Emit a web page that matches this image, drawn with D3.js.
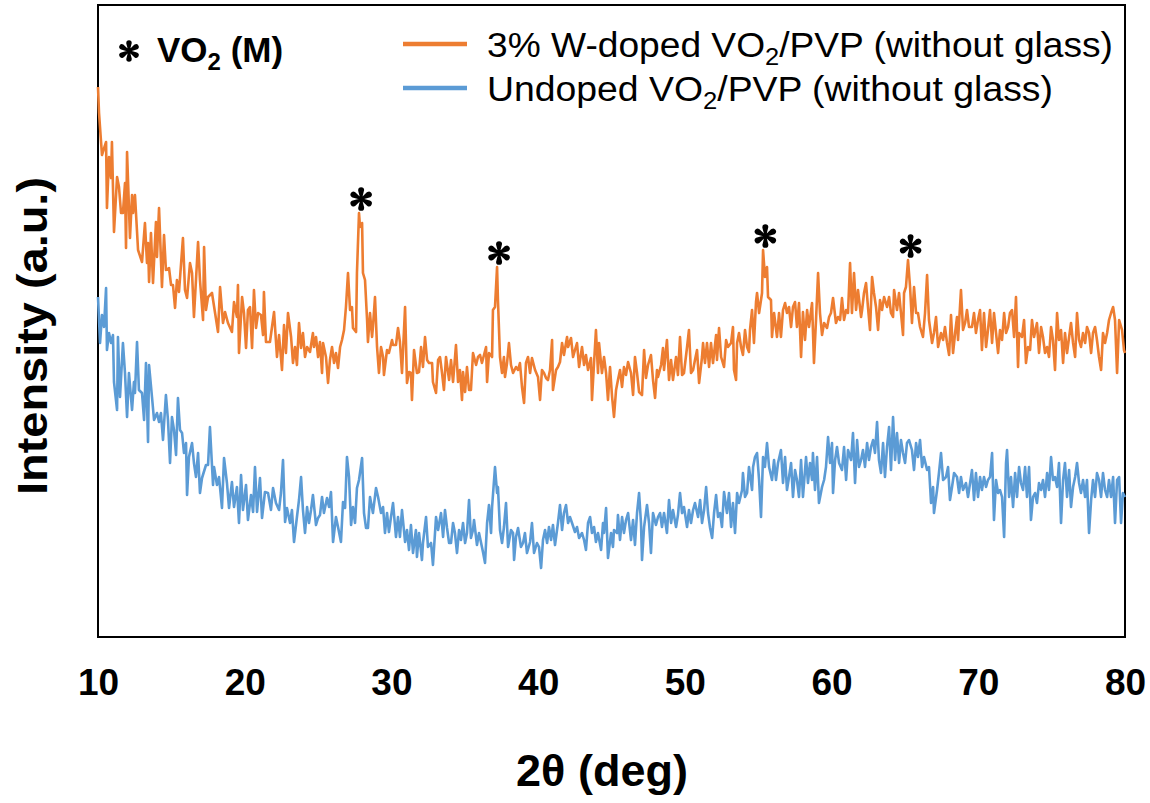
<!DOCTYPE html>
<html>
<head>
<meta charset="utf-8">
<script src="https://cdn.jsdelivr.net/npm/d3@7"></script>
<style>
  html, body { margin: 0; padding: 0; background: #fff; }
  svg { display: block; }
</style>
</head>
<body>
<svg id="chart" width="1150" height="803"></svg>
<script>
// XRD scans: [2θ (deg), intensity (a.u.)]
const dopedScan = [
  [10.00,550],[10.07,524],[10.27,482],[10.55,495],[10.61,429],[10.75,480],[10.89,459],[10.95,495],
  [11.09,405],[11.30,460],[11.43,450],[11.57,424],[11.70,424],[11.84,454],[11.91,389],[11.98,485],
  [12.18,399],[12.32,442],[12.39,424],[12.52,442],[12.73,387],[13.00,375],[13.20,414],[13.34,374],
  [13.41,394],[13.48,355],[13.61,404],[13.75,354],[13.95,415],[14.02,380],[14.16,429],[14.36,350],
  [14.50,402],[14.63,367],[14.84,369],[14.98,352],[15.11,352],[15.25,329],[15.38,357],[15.52,345],
  [15.79,399],[15.93,347],[16.07,339],[16.27,374],[16.41,364],[16.54,320],[16.82,395],[16.95,357],
  [17.16,317],[17.23,390],[17.36,327],[17.50,340],[17.77,344],[17.98,324],[18.18,305],[18.32,350],
  [18.52,314],[18.66,325],[18.86,314],[19.13,305],[19.27,335],[19.47,320],[19.54,352],[19.61,284],
  [19.82,340],[19.95,324],[20.09,289],[20.22,327],[20.36,330],[20.50,289],[20.63,347],[20.77,309],
  [20.91,324],[21.11,322],[21.25,302],[21.31,345],[21.45,295],[21.72,295],[22.00,325],[22.20,280],
  [22.34,302],[22.54,267],[22.68,312],[22.81,284],[22.95,324],[23.16,300],[23.29,274],[23.43,290],
  [23.56,272],[23.70,314],[23.84,289],[23.97,304],[24.11,280],[24.25,290],[24.45,285],[24.65,304],
  [24.72,290],[24.86,300],[25.00,280],[25.13,295],[25.27,264],[25.34,294],[25.54,280],[25.68,254],
  [25.81,277],[25.95,290],[26.09,274],[26.22,284],[26.36,269],[26.50,290],[26.63,297],[26.77,307],
  [26.90,330],[27.04,364],[27.18,327],[27.31,330],[27.38,309],[27.59,305],[27.65,364],[27.79,424],
  [27.86,410],[28.00,414],[28.06,364],[28.20,357],[28.34,317],[28.40,295],[28.54,324],[28.68,300],
  [28.74,310],[28.88,340],[29.02,290],[29.15,264],[29.29,290],[29.43,280],[29.49,262],[29.70,287],
  [29.83,284],[30.04,297],[30.11,292],[30.31,292],[30.45,309],[30.58,295],[30.72,264],[30.93,330],
  [31.06,254],[31.20,265],[31.33,264],[31.40,237],[31.54,287],[31.74,264],[31.88,265],[32.02,290],
  [32.15,270],[32.29,300],[32.43,277],[32.56,274],[32.77,274],[32.83,255],[33.04,244],[33.18,277],
  [33.31,280],[33.45,264],[33.58,247],[33.72,280],[33.93,257],[34.06,277],[34.20,255],[34.40,292],
  [34.54,255],[34.67,267],[34.81,237],[34.88,265],[35.02,245],[35.15,270],[35.29,247],[35.42,247],
  [35.56,284],[35.77,272],[35.90,280],[36.04,282],[36.17,274],[36.31,282],[36.45,290],[36.52,255],
  [36.65,284],[36.86,280],[36.92,327],[37.06,330],[37.20,370],[37.26,337],[37.40,280],[37.54,264],
  [37.67,280],[37.74,260],[37.88,274],[38.01,294],[38.15,272],[38.29,264],[38.49,270],[38.63,267],
  [38.76,274],[38.90,250],[39.04,234],[39.17,274],[39.31,280],[39.45,264],[39.58,279],[39.79,267],
  [39.99,260],[40.13,237],[40.26,267],[40.40,264],[40.54,259],[40.67,257],[40.81,267],[40.95,297],
  [41.01,247],[41.22,267],[41.35,270],[41.49,275],[41.63,294],[41.76,282],[41.97,300],[42.04,290],
  [42.24,299],[42.38,280],[42.51,287],[42.65,294],[42.79,270],[42.99,290],[43.13,272],[43.26,282],
  [43.40,267],[43.60,279],[43.67,237],[43.81,274],[43.94,307],[44.08,264],[44.15,294],[44.35,264],
  [44.49,280],[44.63,264],[44.76,237],[44.90,270],[45.04,240],[45.17,220],[45.31,247],[45.44,257],
  [45.58,267],[45.72,250],[45.85,270],[45.99,262],[46.13,275],[46.33,264],[46.47,242],[46.60,280],
  [46.74,264],[46.88,245],[47.08,242],[47.22,287],[47.35,259],[47.49,272],[47.69,282],[47.83,257],
  [47.97,239],[48.10,267],[48.17,260],[48.38,272],[48.51,289],[48.58,267],[48.78,297],[48.92,257],
  [49.06,277],[49.19,257],[49.40,280],[49.53,262],[49.67,300],[49.81,262],[49.94,264],[50.15,290],
  [50.28,307],[50.42,264],[50.56,267],[50.69,277],[50.83,287],[50.97,254],[51.17,280],[51.24,294],
  [51.37,274],[51.51,294],[51.65,270],[51.78,294],[51.92,274],[52.13,302],[52.19,277],[52.33,309],
  [52.47,280],[52.67,270],[52.81,297],[52.94,290],[53.15,294],[53.28,310],[53.35,267],[53.49,257],
  [53.56,294],[53.69,304],[53.83,290],[53.96,282],[54.10,307],[54.24,290],[54.37,285],[54.44,307],
  [54.58,327],[54.71,294],[54.85,335],[54.92,344],[55.06,324],[55.26,344],[55.33,387],[55.46,360],
  [55.60,370],[55.67,340],[55.87,337],[55.94,300],[56.08,324],[56.28,300],[56.42,324],[56.55,300],
  [56.69,327],[56.83,334],[56.96,324],[57.10,330],[57.24,310],[57.37,330],[57.51,335],[57.64,310],
  [57.78,334],[57.92,280],[58.05,325],[58.19,297],[58.33,327],[58.46,310],[58.67,334],[58.80,274],
  [58.94,317],[59.08,364],[59.21,324],[59.35,302],[59.49,314],[59.69,309],[59.83,320],[59.96,324],
  [60.10,339],[60.30,314],[60.44,320],[60.58,317],[60.71,339],[60.85,317],[60.99,327],[61.12,324],
  [61.26,374],[61.39,324],[61.53,364],[61.67,327],[61.80,347],[62.01,320],[62.08,327],[62.21,344],
  [62.35,354],[62.48,330],[62.62,307],[62.76,360],[62.89,344],[63.03,330],[63.17,307],[63.30,337],
  [63.44,327],[63.58,340],[63.78,330],[63.92,340],[64.05,324],[64.19,320],[64.26,347],[64.46,327],
  [64.60,344],[64.73,324],[64.87,302],[64.94,344],[65.07,350],[65.21,377],[65.35,350],[65.48,314],
  [65.62,350],[65.76,324],[65.89,324],[66.03,310],[66.23,300],[66.37,324],[66.51,362],[66.64,317],
  [66.85,294],[66.98,304],[67.12,320],[67.26,290],[67.46,304],[67.60,297],[67.73,310],[67.87,294],
  [68.01,282],[68.14,322],[68.28,284],[68.42,304],[68.55,320],[68.62,297],[68.82,347],[68.96,307],
  [69.10,314],[69.23,327],[69.37,310],[69.57,310],[69.71,324],[69.84,304],[69.98,317],[70.12,327],
  [70.25,287],[70.39,324],[70.53,290],[70.66,307],[70.80,327],[70.94,294],[71.07,324],[71.21,304],
  [71.35,284],[71.48,307],[71.62,297],[71.76,324],[71.89,304],[72.03,310],[72.16,324],[72.30,327],
  [72.44,300],[72.57,340],[72.71,270],[72.78,304],[72.98,300],[73.12,317],[73.25,274],[73.39,290],
  [73.53,287],[73.66,317],[73.80,300],[74.00,314],[74.14,284],[74.28,310],[74.41,300],[74.55,284],
  [74.69,290],[74.82,280],[74.96,310],[75.09,297],[75.23,267],[75.37,324],[75.50,297],[75.64,307],
  [75.78,274],[75.91,304],[76.05,284],[76.19,300],[76.32,314],[76.46,294],[76.60,280],[76.73,324],
  [76.87,297],[77.00,290],[77.14,304],[77.28,294],[77.41,310],[77.55,304],[77.69,284],[77.82,304],
  [77.96,310],[78.09,297],[78.23,280],[78.37,267],[78.50,304],[78.64,294],[78.78,304],[78.91,317],
  [79.05,324],[79.19,330],[79.32,317],[79.46,264],[79.60,317],[79.80,307],[79.93,287],[80.00,284]
];

const undopedScan = [
  [10.00,340],[10.14,294],[10.27,322],[10.41,310],[10.55,349],[10.61,287],[10.75,304],[10.89,294],
  [11.02,302],[11.09,255],[11.30,227],[11.36,300],[11.50,240],[11.70,294],[11.84,264],[11.98,220],
  [12.11,264],[12.32,227],[12.45,255],[12.52,244],[12.66,295],[12.79,247],[13.00,244],[13.14,217],
  [13.27,274],[13.41,195],[13.48,272],[13.68,240],[13.82,217],[14.02,224],[14.16,215],[14.29,224],
  [14.43,197],[14.63,242],[14.77,217],[14.91,174],[15.04,220],[15.18,207],[15.32,182],[15.45,239],
  [15.59,207],[15.73,204],[15.86,184],[16.00,194],[16.07,142],[16.20,180],[16.41,194],[16.54,174],
  [16.68,160],[16.82,184],[16.95,144],[17.09,159],[17.36,172],[17.50,172],[17.63,210],[17.84,152],
  [17.91,170],[18.11,152],[18.25,160],[18.45,129],[18.59,179],[18.79,154],[18.93,129],[19.13,155],
  [19.27,130],[19.47,150],[19.61,114],[19.75,162],[19.88,127],[20.09,152],[20.22,117],[20.43,142],
  [20.57,125],[20.70,170],[20.84,125],[21.04,159],[21.18,119],[21.38,145],[21.59,144],[21.79,127],
  [21.93,149],[22.13,134],[22.34,127],[22.47,144],[22.61,177],[22.75,115],[22.88,129],[23.09,114],
  [23.22,127],[23.36,95],[23.56,120],[23.70,137],[23.84,160],[23.97,127],[24.11,104],[24.25,130],
  [24.38,114],[24.52,127],[24.65,142],[24.86,112],[25.00,119],[25.13,122],[25.27,140],[25.40,124],
  [25.61,139],[25.75,130],[25.88,145],[26.02,95],[26.22,120],[26.36,110],[26.56,95],[26.70,135],
  [26.84,129],[26.97,180],[27.11,160],[27.25,112],[27.38,130],[27.52,114],[27.65,149],[27.79,157],
  [28.00,179],[28.13,124],[28.27,109],[28.40,109],[28.54,140],[28.74,124],[28.95,149],[29.09,140],
  [29.29,124],[29.43,130],[29.56,104],[29.70,124],[29.83,105],[29.97,120],[30.11,134],[30.31,100],
  [30.45,120],[30.58,100],[30.72,127],[30.93,95],[31.06,107],[31.20,87],[31.33,112],[31.47,84],
  [31.67,107],[31.74,80],[31.88,104],[32.08,77],[32.15,94],[32.36,120],[32.49,90],[32.70,94],
  [32.83,72],[33.04,120],[33.18,107],[33.38,124],[33.52,100],[33.65,127],[33.79,109],[33.93,94],
  [34.06,94],[34.20,114],[34.33,104],[34.47,84],[34.61,107],[34.74,97],[34.88,114],[35.02,94],
  [35.15,104],[35.29,137],[35.42,99],[35.56,107],[35.63,117],[35.83,92],[35.97,104],[36.17,90],
  [36.24,85],[36.38,74],[36.52,114],[36.65,132],[36.79,104],[36.86,130],[37.06,170],[37.20,144],
  [37.26,150],[37.40,107],[37.54,94],[37.67,110],[37.81,134],[37.95,90],[38.15,107],[38.29,104],
  [38.36,77],[38.49,100],[38.63,109],[38.83,90],[38.97,94],[39.10,104],[39.24,84],[39.45,95],
  [39.58,114],[39.72,84],[39.92,94],[40.06,90],[40.20,69],[40.33,97],[40.47,107],[40.61,94],
  [40.74,110],[40.88,97],[41.01,112],[41.15,92],[41.35,114],[41.49,132],[41.63,107],[41.76,124],
  [41.90,132],[42.04,114],[42.17,120],[42.31,114],[42.51,105],[42.65,110],[42.79,99],[42.99,104],
  [43.13,97],[43.26,87],[43.40,114],[43.54,120],[43.67,104],[43.81,110],[43.94,95],[44.08,104],
  [44.29,87],[44.42,114],[44.49,104],[44.63,129],[44.76,79],[44.97,104],[45.10,90],[45.17,107],
  [45.38,104],[45.44,122],[45.58,97],[45.72,120],[45.85,104],[45.99,117],[46.13,124],[46.33,97],
  [46.47,117],[46.60,92],[46.74,124],[46.88,144],[47.01,114],[47.08,77],[47.22,110],[47.42,132],
  [47.56,114],[47.69,84],[47.83,124],[48.03,112],[48.17,120],[48.31,124],[48.44,110],[48.58,124],
  [48.78,104],[48.92,137],[49.06,114],[49.19,127],[49.40,110],[49.53,122],[49.67,144],[49.81,124],
  [49.94,130],[50.15,110],[50.28,127],[50.42,114],[50.56,127],[50.69,134],[50.90,120],[51.04,137],
  [51.17,114],[51.31,127],[51.45,150],[51.58,124],[51.72,109],[51.86,99],[51.99,124],[52.13,142],
  [52.26,120],[52.40,124],[52.53,110],[52.67,145],[52.87,124],[53.01,144],[53.15,110],[53.28,134],
  [53.42,104],[53.56,144],[53.69,134],[53.90,147],[53.96,164],[54.10,140],[54.24,144],[54.37,170],
  [54.58,147],[54.65,170],[54.78,180],[54.92,184],[55.06,157],[55.19,120],[55.33,180],[55.46,170],
  [55.60,194],[55.74,170],[55.94,157],[56.08,177],[56.21,157],[56.35,174],[56.55,187],[56.69,154],
  [56.83,180],[56.96,147],[57.10,160],[57.24,174],[57.37,140],[57.51,167],[57.64,157],[57.78,140],
  [57.92,177],[58.05,140],[58.26,180],[58.39,154],[58.53,174],[58.67,157],[58.73,184],[58.87,147],
  [59.01,180],[59.14,134],[59.35,150],[59.49,157],[59.62,170],[59.76,200],[59.90,174],[60.03,194],
  [60.10,144],[60.24,177],[60.37,190],[60.51,174],[60.71,167],[60.85,190],[60.99,157],[61.12,187],
  [61.33,177],[61.46,204],[61.60,154],[61.74,197],[61.87,170],[62.01,177],[62.14,187],[62.28,170],
  [62.42,194],[62.55,177],[62.69,190],[62.83,197],[62.96,184],[63.10,215],[63.23,177],[63.37,164],
  [63.51,194],[63.64,160],[63.78,190],[63.92,210],[64.05,167],[64.19,220],[64.33,177],[64.46,204],
  [64.60,174],[64.73,197],[64.87,184],[65.01,174],[65.14,194],[65.28,197],[65.48,187],[65.62,167],
  [65.76,194],[65.89,180],[66.03,197],[66.17,170],[66.30,180],[66.51,167],[66.64,170],[66.78,134],
  [66.92,150],[66.98,124],[67.19,147],[67.32,164],[67.46,184],[67.60,157],[67.80,160],[67.94,170],
  [68.07,137],[68.21,150],[68.35,164],[68.55,160],[68.69,144],[68.82,160],[68.96,147],[69.16,154],
  [69.30,140],[69.57,167],[69.71,137],[69.84,164],[69.98,140],[70.12,160],[70.25,147],[70.39,160],
  [70.53,150],[70.66,157],[70.80,160],[70.94,184],[71.07,117],[71.21,157],[71.35,144],[71.48,147],
  [71.62,140],[71.76,100],[71.89,174],[71.96,187],[72.10,140],[72.23,160],[72.37,130],[72.51,164],
  [72.64,140],[72.78,170],[72.91,154],[73.05,147],[73.19,170],[73.32,140],[73.46,170],[73.59,117],
  [73.73,140],[73.87,144],[74.00,134],[74.14,154],[74.28,147],[74.41,157],[74.55,140],[74.69,164],
  [74.82,147],[74.96,180],[75.09,157],[75.23,160],[75.37,150],[75.50,174],[75.64,114],[75.78,157],
  [75.91,174],[76.05,140],[76.19,167],[76.32,130],[76.46,150],[76.60,160],[76.73,174],[76.87,154],
  [77.00,144],[77.14,157],[77.28,140],[77.41,157],[77.55,104],[77.69,137],[77.82,157],[77.96,140],
  [78.09,164],[78.23,157],[78.37,140],[78.50,164],[78.64,147],[78.78,140],[78.91,157],[79.05,140],
  [79.19,160],[79.32,114],[79.46,157],[79.60,160],[79.73,114],[79.86,144],[80.00,140]
];

const xTickValues = [10, 20, 30, 40, 50, 60, 70, 80];
const vo2PeakAngles = [27.8, 37.2, 55.35, 65.25];   // VO2 (M) reflections marked with *
const seriesNames = ["3% W-doped VO", "Undoped VO"];
const seriesColors = ["#ED7D31", "#5B9BD5"];

const svg = d3.select("#chart");
const plot = { left: 98, right: 1125, top: 5, bottom: 637 };

const x = d3.scaleLinear().domain([10, 80]).range([plot.left, plot.right]);
const y = d3.scaleLinear().domain([0, 632]).range([plot.bottom, plot.top]);

const line = d3.line().x(d => x(d[0])).y(d => y(d[1]));

// plot frame
svg.append("rect")
  .attr("x", plot.left).attr("y", plot.top)
  .attr("width", plot.right - plot.left).attr("height", plot.bottom - plot.top)
  .attr("fill", "none").attr("stroke", "#000").attr("stroke-width", 2);

// x axis labels (no tick marks)
const xAxis = d3.axisBottom(x).tickValues(xTickValues).tickSize(0).tickPadding(0);
const gx = svg.append("g").attr("transform", `translate(0,${plot.bottom})`).call(xAxis);
gx.select(".domain").remove();
gx.selectAll("text")
  .attr("y", 58).attr("dy", null)
  .attr("font-family", "'Liberation Sans', Arial, sans-serif")
  .attr("font-weight", "bold").attr("font-size", 37).attr("fill", "#000");

// scans
[undopedScan, dopedScan].forEach((scan, i) => {
  svg.append("path")
    .datum(scan)
    .attr("d", line)
    .attr("fill", "none")
    .attr("stroke", seriesColors[1 - i])
    .attr("stroke-width", 2.6)
    .attr("stroke-linejoin", "round");
});

// six-petal asterisk glyph
function asteriskPath(r) {
  const p = d3.path();
  const w0 = r * 0.07, w1 = r * 0.26, len = r * 0.72;
  for (let k = 0; k < 6; k++) {
    const a = k * Math.PI / 3;
    const c = Math.cos(a), s = Math.sin(a);
    const pt = (u, v) => [u * c - v * s, u * s + v * c];
    const [ax, ay] = pt(-w0, 0), [bx, by] = pt(-w1, -len), [cx, cy] = pt(w1, -len), [dx, dy] = pt(w0, 0);
    p.moveTo(ax, ay);
    p.lineTo(bx, by);
    p.arcTo(...pt(-w1, -len - w1 * 1.2), ...pt(0, -len - w1 * 1.2), w1);
    p.arcTo(...pt(w1, -len - w1 * 1.2), cx, cy, w1);
    p.lineTo(dx, dy);
    p.closePath();
  }
  return p.toString();
}

// peak markers
vo2PeakAngles.forEach(a => {
  const near = dopedScan.filter(d => Math.abs(d[0] - a) < 0.3);
  const top = d3.max(near, d => d[1]);
  svg.append("path")
    .attr("d", asteriskPath(11.5))
    .attr("transform", `translate(${x(a) + 2},${y(top) - 14})`)
    .attr("fill", "#000");
});

// phase key
svg.append("path")
  .attr("d", asteriskPath(10.5))
  .attr("transform", "translate(129,51)")
  .attr("fill", "#000");
const key = svg.append("text")
  .attr("x", 157).attr("y", 62)
  .attr("font-family", "'Liberation Sans', Arial, sans-serif")
  .attr("font-weight", "bold").attr("font-size", 35).attr("fill", "#000");
key.append("tspan").text("VO");
key.append("tspan").text("2").attr("font-size", 24).attr("dy", 8);
key.append("tspan").text(" (M)").attr("dy", -8);

// series legend
const legendRows = [
  { name: seriesNames[0], color: seriesColors[0], y: 44, len: 626 },
  { name: seriesNames[1], color: seriesColors[1], y: 88, len: 566 }
];
legendRows.forEach(r => {
  svg.append("line")
    .attr("x1", 403).attr("x2", 467).attr("y1", r.y).attr("y2", r.y)
    .attr("stroke", r.color).attr("stroke-width", 4.5);
  const t = svg.append("text")
    .attr("x", 487).attr("y", r.y + 13)
    .attr("font-family", "'Liberation Sans', Arial, sans-serif")
    .attr("font-size", 35).attr("fill", "#000")
    .attr("textLength", r.len).attr("lengthAdjust", "spacingAndGlyphs");
  t.append("tspan").text(r.name);
  t.append("tspan").text("2").attr("font-size", 24).attr("dy", 8);
  t.append("tspan").text("/PVP (without glass)").attr("dy", -8);
});

// axis titles
svg.append("text")
  .attr("x", 602).attr("y", 786)
  .attr("text-anchor", "middle")
  .attr("font-family", "'Liberation Sans', Arial, sans-serif")
  .attr("font-weight", "bold").attr("font-size", 45).attr("fill", "#000")
  .text("2θ (deg)");

svg.append("text")
  .attr("transform", "translate(47,336) rotate(-90)")
  .attr("text-anchor", "middle")
  .attr("font-family", "'Liberation Sans', Arial, sans-serif")
  .attr("font-weight", "bold").attr("font-size", 43).attr("fill", "#000")
  .attr("textLength", 318).attr("lengthAdjust", "spacingAndGlyphs")
  .text("Intensity (a.u.)");
</script>
</body>
</html>
